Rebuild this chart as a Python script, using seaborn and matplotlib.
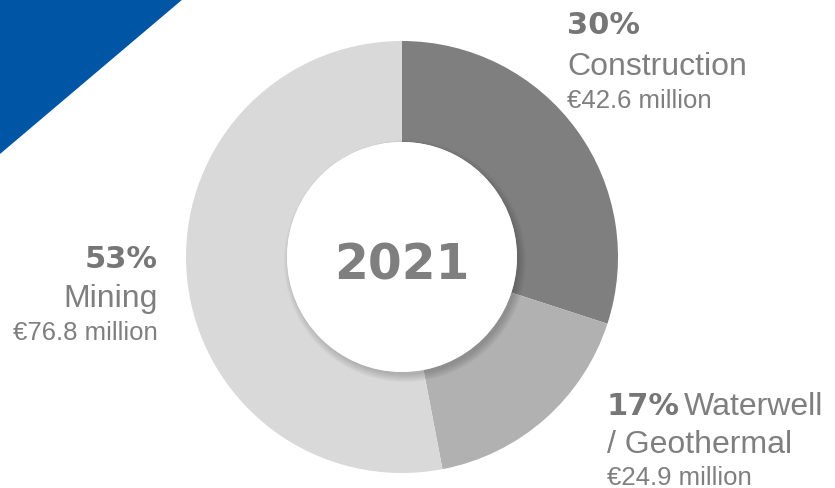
import matplotlib
matplotlib.use("Agg")
import matplotlib.pyplot as plt
from matplotlib.patches import Circle, Polygon
import seaborn as sns

# ---- data ----
categories = ["Construction", "Waterwell / Geothermal", "Mining"]
shares = [30, 17, 53]
amounts = [42.6, 24.9, 76.8]
year_label = "2021"
seg_colors = ["#7f7f7f", "#b1b1b1", "#d9d9d9"]

sns.set_theme(style="white")
plt.rcParams['font.family'] = ['Liberation Sans', 'DejaVu Sans']

W, H = 835, 489
fig = plt.figure(figsize=(W / 100, H / 100), dpi=100)
ax = fig.add_axes([0, 0, 1, 1])

def Y(y_img):
    return H - y_img

cx, cy = 402, Y(258)
R, r_in = 216, 115

ax.pie(shares, colors=seg_colors, startangle=90, counterclock=False,
       center=(cx, cy), radius=R,
       wedgeprops=dict(width=R - r_in, linewidth=0))

# soft shadow under the centre disc
for k in range(8):
    ax.add_patch(Circle((cx + 3, cy - 4), r_in + 6 - k, color="black",
                        alpha=0.025, lw=0, zorder=3))
ax.add_patch(Circle((cx, cy), r_in, color="white", lw=0, zorder=4))
ax.text(cx, Y(280), year_label, ha="center", va="baseline", fontsize=35,
        color="#7f7f7f", fontweight="bold", family="DejaVu Sans", zorder=5)

# blue corner triangle
ax.add_patch(Polygon([(0, H), (183, H), (0, Y(155))], closed=True,
                     color="#0055a5", lw=0, zorder=1))

txt = "#7f7f7f"
bold = dict(family="DejaVu Sans", fontweight="bold", color="#767676")
PS, NS, AS = 22, 23, 18.5

# Construction (top right)
ax.text(567, Y(34), f"{shares[0]}%", fontsize=PS, ha="left", va="baseline", **bold)
ax.text(567, Y(75), categories[0], fontsize=NS, ha="left", va="baseline", color=txt)
ax.text(567, Y(108), f"€{amounts[0]} million", fontsize=AS, ha="left", va="baseline", color=txt)

# Mining (left)
ax.text(158, Y(268), f"{shares[2]}%", fontsize=PS, ha="right", va="baseline", **bold)
ax.text(158, Y(307), categories[2], fontsize=NS, ha="right", va="baseline", color=txt)
ax.text(158, Y(340), f"€{amounts[2]} million", fontsize=AS, ha="right", va="baseline", color=txt)

# Waterwell / Geothermal (bottom right)
name1, name2 = categories[1].split(" / ")
ax.text(607, Y(415), f"{shares[1]}%", fontsize=PS, ha="left", va="baseline", **bold)
ax.text(684, Y(415), name1, fontsize=NS, ha="left", va="baseline", color=txt)
ax.text(607, Y(453), "/ " + name2, fontsize=NS, ha="left", va="baseline", color=txt)
ax.text(607, Y(485), f"€{amounts[1]} million", fontsize=AS, ha="left", va="baseline", color=txt)

ax.set_xlim(0, W)
ax.set_ylim(0, H)
ax.set_aspect("equal")
ax.axis("off")

fig.savefig("out.png", dpi=100)
